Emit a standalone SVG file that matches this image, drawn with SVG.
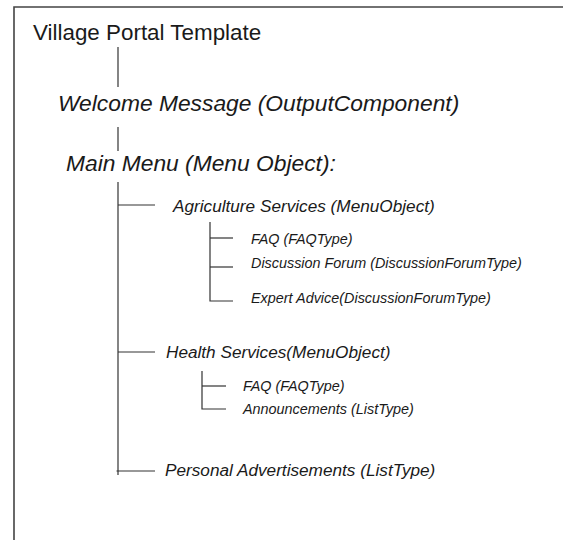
<svg xmlns="http://www.w3.org/2000/svg" width="563" height="540" viewBox="0 0 563 540">
<style>
.ln{stroke:#333;stroke-width:1.2;fill:none}
.fr{stroke:#444;stroke-width:1.6;fill:none}
text{font-family:"Liberation Sans",Arial,sans-serif;fill:#1a1a1a}
.it{font-style:italic}
.t1{font-size:22.4px}
.t2{font-size:22.8px}
.t3{font-size:17.2px}
.t4{font-size:14.4px}
</style>
<rect width="563" height="540" fill="#fff"/>
<path class="fr" d="M14,540 V7 H563"/>
<g id="connectors">
<path class="ln" d="M118,47 V87"/>
<path class="ln" d="M118,127 V151"/>
<path class="ln" d="M118,182 V475"/>
<path class="ln" d="M118,205 H155"/>
<path class="ln" d="M118,352 H155"/>
<path class="ln" d="M116.5,471 H155"/>
<path class="ln" d="M210,222 V301 H233"/>
<path class="ln" d="M210,238 H233"/>
<path class="ln" d="M210,267 H233"/>
<path class="ln" d="M202,371 V409 H226"/>
<path class="ln" d="M202,386 H226"/>
</g>
<g id="village"><text class="t1" x="33" y="40">Village Portal Template</text></g>
<g id="welcome"><text class="t2 it" x="58" y="111">Welcome Message (OutputComponent)</text></g>
<g id="mainmenu"><text class="t2 it" x="66" y="171">Main Menu (Menu Object):</text></g>
<g id="agri"><text class="t3 it" x="173" y="212">Agriculture Services (MenuObject)</text></g>
<g id="agri-faq"><text class="t4 it" x="251" y="244">FAQ (FAQType)</text></g>
<g id="agri-forum"><text class="t4 it" x="251" y="268">Discussion Forum (DiscussionForumType)</text></g>
<g id="agri-expert"><text class="t4 it" x="251" y="303">Expert Advice(DiscussionForumType)</text></g>
<g id="health"><text class="t3 it" x="166" y="358">Health Services(MenuObject)</text></g>
<g id="health-faq"><text class="t4 it" x="243" y="391">FAQ (FAQType)</text></g>
<g id="health-ann"><text class="t4 it" x="243" y="414">Announcements (ListType)</text></g>
<g id="personal"><text class="t3 it" x="165" y="476">Personal Advertisements (ListType)</text></g>
</svg>
